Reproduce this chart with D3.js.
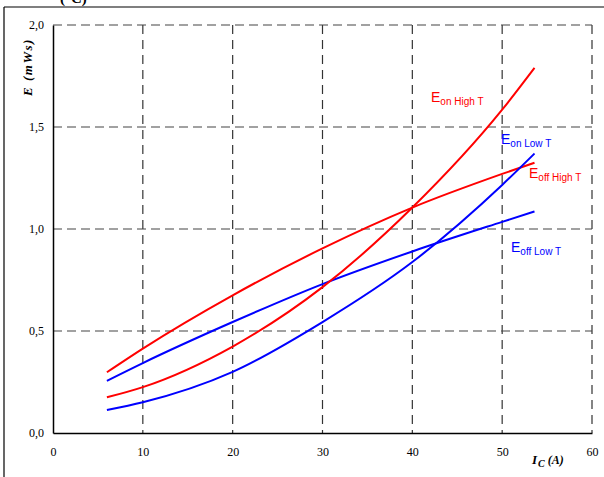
<!DOCTYPE html>
<html>
<head>
<meta charset="utf-8">
<script src="https://cdn.jsdelivr.net/npm/d3@7"></script>
<style>
body { margin: 0; background: #fff; }
</style>
</head>
<body>
<div id="chart"></div>
<script>
// current (A) where each curve was read
let currents = [6, 10, 20, 30, 40, 50, 53.6];
let eoffHigh = [0.298, 0.414, 0.675, 0.905, 1.105, 1.27, 1.325];
let eoffLow = [0.256, 0.343, 0.544, 0.73, 0.89, 1.035, 1.086];
let eonHigh = [0.175, 0.225, 0.424, 0.715, 1.105, 1.585, 1.79];
let eonLow = [0.113, 0.151, 0.30, 0.544, 0.838, 1.216, 1.37];
let xTicks = [0, 10, 20, 30, 40, 50, 60];
let yTicks = [0, 0.5, 1.0, 1.5, 2.0];

let width = 604, height = 477;
let svg = d3.select("#chart").append("svg")
	.attr("width", width)
	.attr("height", height);

let plotLeft = 53, plotRight = 592, plotTop = 25, plotBottom = 433;
let xScale = d3.scaleLinear().domain([0, 60]).range([plotLeft, plotRight]);
let yScale = d3.scaleLinear().domain([0, 2]).range([plotBottom, plotTop]);

// outer frame (cut off by the page, like the original)
svg.append("line").attr("x1", 4).attr("x2", width).attr("y1", 7).attr("y2", 7)
	.attr("stroke", "#000").attr("stroke-width", 1.2);
svg.append("line").attr("x1", 4).attr("x2", 4).attr("y1", 7).attr("y2", height)
	.attr("stroke", "#000").attr("stroke-width", 1.2);
svg.append("text").attr("x", 60).attr("y", 3)
	.style("font-family", "Liberation Serif").style("font-size", "15px").style("font-weight", "bold")
	.text("(°C)");

// grid
svg.selectAll(".vgrid").data(xTicks.filter(d => d > 0)).enter().append("line")
	.attr("x1", d => xScale(d)).attr("x2", d => xScale(d))
	.attr("y1", plotTop).attr("y2", plotBottom)
	.attr("stroke", "#333").attr("stroke-width", 1.2)
	.attr("stroke-dasharray", "9,6");
svg.selectAll(".hgrid").data(yTicks.filter(d => d > 0)).enter().append("line")
	.attr("x1", plotLeft).attr("x2", plotRight)
	.attr("y1", d => yScale(d)).attr("y2", d => yScale(d))
	.attr("stroke", "#444").attr("stroke-width", 1.2)
	.attr("stroke-dasharray", "9,5");

// axes
let fmt = d => d3.format(".1f")(d).replace(".", ",");
let yAxis = d3.axisLeft(yScale).tickValues(yTicks).tickFormat(fmt).tickSize(0).tickPadding(9);
let xAxis = d3.axisBottom(xScale).tickValues(xTicks).tickSize(0).tickPadding(14);

svg.append("g").attr("transform", `translate(${plotLeft},0)`).call(yAxis)
	.call(g => g.select(".domain").attr("stroke-width", 1.5));
svg.append("g").attr("transform", `translate(0,${plotBottom})`).call(xAxis)
	.call(g => g.select(".domain").attr("stroke-width", 1.5));
svg.selectAll(".tick text")
	.style("font-family", "Liberation Serif").style("font-size", "12px").attr("fill", "#000");

// axis titles
svg.append("text")
	.attr("transform", "translate(32,67) rotate(-90)")
	.attr("text-anchor", "middle")
	.style("font-family", "Liberation Serif").style("font-size", "13px")
	.style("font-weight", "bold").style("font-style", "italic")
	.style("letter-spacing", "1.5px")
	.text("E (mWs)");
let ic = svg.append("text").attr("x", 532).attr("y", 464)
	.style("font-family", "Liberation Serif").style("font-size", "13px")
	.style("font-weight", "bold").style("font-style", "italic");
ic.append("tspan").text("I");
ic.append("tspan").attr("dy", 3).attr("dx", 1).style("font-size", "10px").text("C");
ic.append("tspan").attr("dy", -3).attr("dx", 3).style("font-size", "12px").text("(A)");

// curves
let series = [
	{name: "off", temp: "High T", values: eoffHigh, color: "#ff0000", lx: 529, ly: 178},
	{name: "off", temp: "Low T", values: eoffLow, color: "#0000ff", lx: 511, ly: 252},
	{name: "on", temp: "High T", values: eonHigh, color: "#ff0000", lx: 431, ly: 102},
	{name: "on", temp: "Low T", values: eonLow, color: "#0000ff", lx: 501, ly: 144}
];

let line = d3.line()
	.x((d, i) => xScale(currents[i]))
	.y(d => yScale(d))
	.curve(d3.curveMonotoneX);

series.forEach(s => {
	svg.append("path")
		.datum(s.values)
		.attr("d", line)
		.attr("fill", "none")
		.attr("stroke", s.color)
		.attr("stroke-width", 2);

	let t = svg.append("text").attr("x", s.lx).attr("y", s.ly)
		.style("font-family", "Liberation Sans").attr("fill", s.color);
	t.append("tspan").style("font-size", "14px").text("E");
	t.append("tspan").attr("dy", 3).style("font-size", "10px").text(s.name + " " + s.temp);
});
</script>
</body>
</html>
